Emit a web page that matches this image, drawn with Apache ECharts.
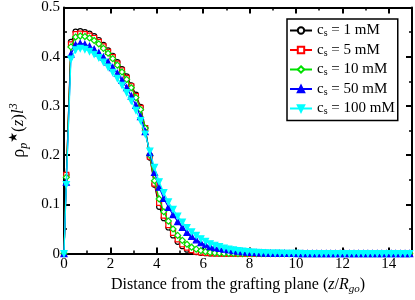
<!DOCTYPE html>
<html><head><meta charset="utf-8">
<script src="https://cdn.jsdelivr.net/npm/echarts@6/dist/echarts.min.js"></script>
<style>html,body{margin:0;padding:0;background:#fff}#c{width:415px;height:300px}</style>
</head><body><div id="c"></div>
<script>
var xs = [0,0.1,0.3,0.5,0.7,0.9,1.1,1.3,1.5,1.7,1.9,2.1,2.3,2.5,2.7,2.9,3.1,3.3,3.5,3.7,3.9,4.1,4.3,4.5,4.7,4.9,5.1,5.3,5.5,5.7,5.9,6.1,6.3,6.5,6.7,6.9,7.1,7.3,7.5,7.7,7.9,8.1,8.3,8.5,8.7,8.9,9.1,9.3,9.5,9.7,9.9,10.1,10.3,10.5,10.7,10.9,11.1,11.3,11.5,11.7,11.9,12.1,12.3,12.5,12.7,12.9,13.1,13.3,13.5,13.7,13.9,14.1,14.3,14.5,14.7,14.9];
var names = ['1 mM','5 mM','10 mM','50 mM','100 mM'];
var s1 = [0,0.16,0.43,0.451,0.452,0.45,0.447,0.442,0.434,0.424,0.413,0.402,0.389,0.375,0.36,0.342,0.323,0.298,0.255,0.195,0.14,0.095,0.072,0.053,0.037,0.024,0.015,0.008,0.005,0.003,0.0015,0.0008,0.0004,0.0002,0,0,0,0,0,0,0,0,0,0,0,0,0,0,0,0,0,0,0,0,0,0,0,0,0,0,0,0,0,0,0,0,0,0,0,0,0,0,0,0,0,0];
var s5 = [0,0.16,0.425,0.446,0.447,0.446,0.443,0.438,0.43,0.421,0.41,0.399,0.386,0.372,0.357,0.34,0.32,0.296,0.255,0.197,0.142,0.103,0.077,0.058,0.042,0.029,0.019,0.012,0.007,0.004,0.0025,0.0015,0.0008,0.0004,0.0002,0,0,0,0,0,0,0,0,0,0,0,0,0,0,0,0,0,0,0,0,0,0,0,0,0,0,0,0,0,0,0,0,0,0,0,0,0,0,0,0,0];
var s10 = [0,0.155,0.42,0.44,0.442,0.441,0.438,0.433,0.426,0.417,0.407,0.396,0.383,0.369,0.354,0.337,0.317,0.293,0.255,0.2,0.148,0.111,0.085,0.066,0.05,0.037,0.027,0.019,0.013,0.009,0.006,0.004,0.0025,0.0015,0.001,0.0006,0.0003,0.0002,0.0001,0,0,0,0,0,0,0,0,0,0,0,0,0,0,0,0,0,0,0,0,0,0,0,0,0,0,0,0,0,0,0,0,0,0,0,0,0];
var s50 = [0,0.145,0.405,0.424,0.427,0.425,0.421,0.415,0.408,0.399,0.389,0.378,0.366,0.352,0.337,0.32,0.301,0.278,0.248,0.205,0.165,0.135,0.112,0.094,0.079,0.065,0.053,0.043,0.035,0.028,0.022,0.018,0.014,0.012,0.0105,0.009,0.0075,0.006,0.005,0.004,0.003,0.0024,0.0018,0.0013,0.001,0.0007,0.0005,0.0004,0.0003,0.0002,0.0002,0.0001,0.0001,0.0001,0,0,0,0,0,0,0,0,0,0,0,0,0,0,0,0,0,0,0,0,0,0];
var s100 = [0,0.14,0.395,0.414,0.417,0.415,0.411,0.405,0.398,0.389,0.379,0.368,0.356,0.342,0.327,0.31,0.291,0.27,0.243,0.208,0.175,0.146,0.124,0.105,0.09,0.076,0.064,0.053,0.044,0.037,0.03,0.025,0.02,0.017,0.014,0.011,0.009,0.0075,0.006,0.005,0.004,0.003,0.0025,0.002,0.0015,0.0012,0.001,0.0008,0.0006,0.0005,0.0004,0.0003,0.0002,0.0002,0.0001,0.0001,0,0,0,0,0,0,0,0,0,0,0,0,0,0,0,0,0,0,0,0];
var yTicks = [0,0.1,0.2,0.3,0.4,0.5];
var xTicks = [0,2,4,6,8,10,12,14];

var F = '"Liberation Serif","DejaVu Serif",serif';
var colors = ['#000000','#ff0000','#00e000','#0000ff','#00ffff'];
var symbols = ['circle','rect','diamond','triangle','path://M0,0 L10,0 L5,10 Z'];
var fills = ['#ffffff','#ffffff','#ffffff','#0000ff','#00ffff'];
var sizes = [5,5,6,6,6];
var all = [s1,s5,s10,s50,s100];

function pairs(v){ return xs.map(function(x,i){ return [x, v[i]]; }); }

var series = all.map(function(v,k){
  return {
    name: names[k], type:'line', data: pairs(v), xAxisIndex:0, yAxisIndex:0,
    symbol: symbols[k], symbolSize: sizes[k], showAllSymbol: true,
    lineStyle:{color:colors[k], width:1.2},
    itemStyle:{color:fills[k], borderColor:colors[k], borderWidth:1.2},
    z: 2+k, animation:false
  };
});

var axisCommon = {
  axisLine:{show:true, onZero:false, lineStyle:{color:'#000', width:2}},
  axisTick:{show:true, inside:true, length:6, lineStyle:{color:'#000', width:2}},
  minorTick:{show:true, splitNumber:2, length:3, lineStyle:{color:'#000', width:1.5}},
  splitLine:{show:false}
};

var chart = echarts.init(document.getElementById('c'), null, {renderer:'canvas'});
chart.setOption({
  animation:false,
  grid:{left:57, right:2, top:7, bottom:41},
  legend:{
    data: names, orient:'vertical', left:287, top:19,
    padding:[4,3,4,2], itemGap:4, itemWidth:22, itemHeight:8,
    borderColor:'#000', borderWidth:1.5, backgroundColor:'#fff',
    formatter:function(n){ return '{c|c}{s|s}{t| = '+n+'}'; },
    textStyle:{fontFamily:F, fontSize:15, color:'#000',
      rich:{c:{fontFamily:F,fontSize:15,lineHeight:16}, s:{fontFamily:F,fontSize:10,lineHeight:10,verticalAlign:'bottom'}, t:{fontFamily:F,fontSize:15,lineHeight:16}}}
  },
  xAxis:[
    Object.assign({type:'value', min:0, max:15, interval:2, position:'bottom',
      axisLabel:{fontFamily:F, fontSize:15, color:'#000', margin:3,
        formatter:function(v){ return xTicks.indexOf(v)>=0 ? String(v) : ''; }},
      name:'{a|Distance from the grafting plane (}{i|z}{a|/}{i|R}{sb|go}{a|)}',
      nameLocation:'middle', nameGap:20,
      nameTextStyle:{rich:{a:{fontFamily:F,fontSize:16,color:'#000'}, i:{fontFamily:F,fontSize:16,fontStyle:'italic',color:'#000'}, sb:{fontFamily:F,fontSize:11,fontStyle:'italic',color:'#000',verticalAlign:'bottom',padding:[10,0,0,0]}}}
    }, axisCommon),
    Object.assign({type:'value', min:0, max:15, interval:2, position:'top', axisLabel:{show:false}}, axisCommon)
  ],
  yAxis:[
    Object.assign({type:'value', min:0, max:0.5, interval:0.1, position:'left',
      axisLabel:{fontFamily:F, fontSize:15, color:'#000', margin:4,
        formatter:function(v){ return v===0 ? '0' : v.toFixed(1); }},
      name:'{r|ρ}{sb|p}{st|★}{a|(}{i|z}{a|)}{i|l}{sp|3}',
      nameLocation:'middle', nameGap:34, nameRotate:90,
      nameTextStyle:{rich:{r:{fontFamily:F,fontSize:18,color:'#000'}, a:{fontFamily:F,fontSize:17,color:'#000'}, i:{fontFamily:F,fontSize:17,fontStyle:'italic',color:'#000'}, sb:{fontFamily:F,fontSize:12,fontStyle:'italic',color:'#000',verticalAlign:'bottom',padding:[10,0,0,0]}, st:{fontFamily:'DejaVu Sans',fontSize:12,color:'#000',verticalAlign:'top',padding:[0,0,8,0]}, sp:{fontFamily:F,fontSize:12,fontStyle:'italic',color:'#000',verticalAlign:'top',padding:[0,0,8,0]}}}
    }, axisCommon),
    Object.assign({type:'value', min:0, max:0.5, interval:0.1, position:'right', axisLabel:{show:false}}, axisCommon)
  ],
  series: series
});
</script></body></html>
